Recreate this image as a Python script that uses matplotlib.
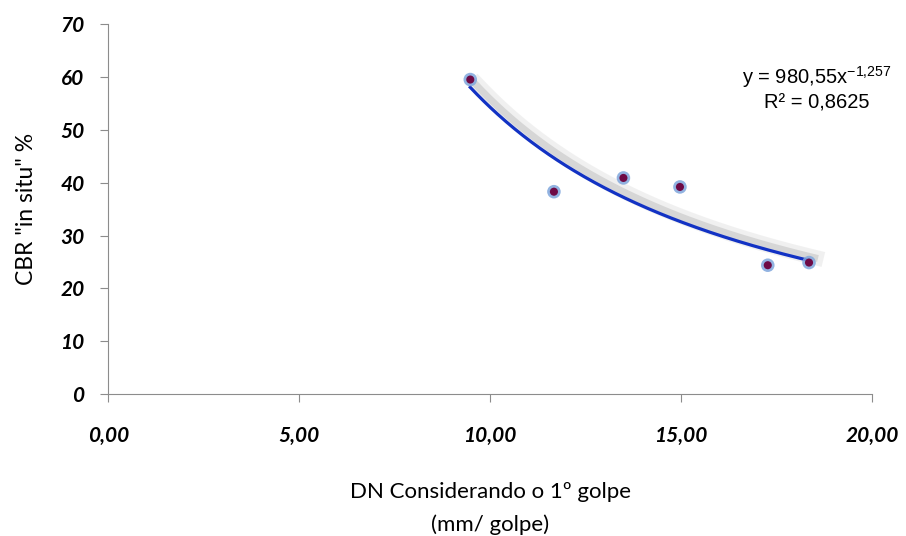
import matplotlib
matplotlib.use('Agg')
import matplotlib.pyplot as plt
import matplotlib.patheffects as pe
import numpy as np

# data
dn = [9.48, 11.67, 13.49, 14.97, 17.27, 18.35]
cbr = [59.5, 38.3, 40.9, 39.2, 24.4, 24.9]
coef_a = 980.55
coef_b = -1.257
x_ticks = [0, 5, 10, 15, 20]
x_labels = ['0,00', '5,00', '10,00', '15,00', '20,00']
y_ticks = [0, 10, 20, 30, 40, 50, 60, 70]

plt.rcParams['mathtext.fontset'] = 'custom'
plt.rcParams['mathtext.rm'] = 'Liberation Sans'
plt.rcParams['mathtext.default'] = 'regular'

fig = plt.figure(figsize=(9.06, 5.36), dpi=100)
ax = fig.add_axes([0.1195, 0.2644, 0.843, 0.6908])

# power trendline with soft grey shadow
xf = np.linspace(min(dn), max(dn), 200)
yf = coef_a * xf ** coef_b
shadow = [pe.SimpleLineShadow(offset=(5, 2), shadow_color='#d0d0d0', alpha=0.3, linewidth=11),
          pe.SimpleLineShadow(offset=(4, 2), shadow_color='#b0b0b0', alpha=0.4, linewidth=5),
          pe.Normal()]
ax.plot(xf, yf, color='#1232c4', lw=2.3, zorder=3, path_effects=shadow)

# points
ax.scatter(dn, cbr, s=95, color='#7fa6dc', alpha=0.85, zorder=4, edgecolors='none')
ax.scatter(dn, cbr, s=34, color='#6e0a45', zorder=5, edgecolors='none')

ax.text(0.928, 0.826, 'y = 980,55x$^{-1{,}257}$\nR² = 0,8625', transform=ax.transAxes,
        ha='center', va='center', fontsize=14.5, family='Liberation Sans',
        linespacing=1.25, multialignment='center')

ax.set_xlim(0, 20)
ax.set_ylim(0, 70)
ax.set_xticks(x_ticks)
ax.set_xticklabels(x_labels)
ax.set_yticks(y_ticks)
for lab in ax.get_xticklabels() + ax.get_yticklabels():
    lab.set_fontfamily('Lato')
    lab.set_fontweight('bold')
    lab.set_fontstyle('italic')
    lab.set_fontsize(15)
ax.tick_params(axis='x', direction='out', length=6, color='#8c8c8c', pad=17)
ax.tick_params(axis='y', direction='out', length=6, color='#8c8c8c', pad=11)

for s in ['top', 'right']:
    ax.spines[s].set_visible(False)
for s in ['left', 'bottom']:
    ax.spines[s].set_color('#8c8c8c')

ax.set_xlabel('DN Considerando o 1º golpe\n(mm/ golpe)', fontsize=16,
              family='Lato', labelpad=26, linespacing=1.75)
ax.set_ylabel('CBR "in situ" %', fontsize=16.5, family='Lato', labelpad=17)

fig.savefig('out.png', dpi=100)
